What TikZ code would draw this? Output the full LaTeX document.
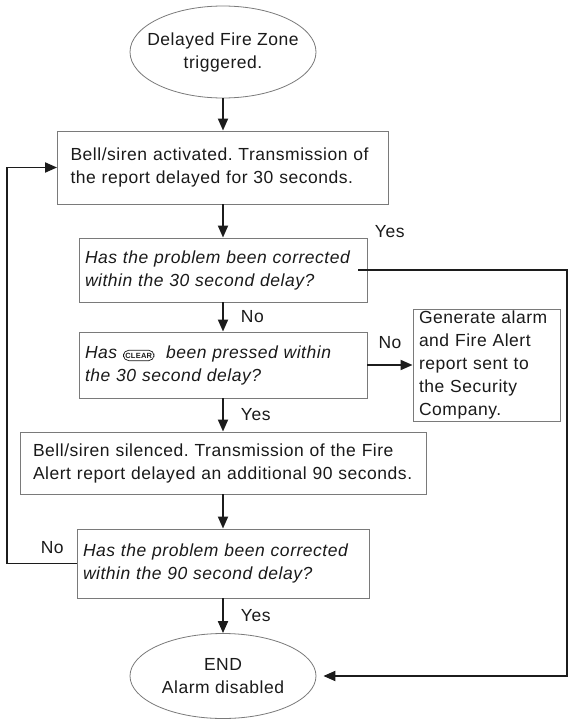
\documentclass[tikz,border=0pt]{standalone}
\usepackage{fontspec}
\setmainfont{Liberation Sans}[LetterSpace=3]
\usepackage{tikz}
\usetikzlibrary{arrows.meta,shapes.geometric}
\definecolor{boxgray}{HTML}{7A7A7A}
\definecolor{linedark}{HTML}{1C1C1C}
\definecolor{inkgray}{HTML}{1A1A1A}
\frenchspacing
\newcommand{\flowsize}{\fontsize{17.5}{23}\selectfont}
\newcommand{\clearkey}{\tikz[baseline=(ck.base)]\node[keycap] (ck) {CLEAR};}
\tikzset{
  >={Triangle[length=12pt,width=10pt]},
  % boxes
  stmt/.style={rectangle,draw=boxgray,line width=0.9pt,align=left,
               inner xsep=13pt,inner ysep=0pt,font=\flowsize,text=inkgray},
  ques/.style={stmt,inner xsep=6pt,font=\flowsize\itshape},
  term/.style={ellipse,draw=boxgray,line width=0.8pt,align=center,
               inner xsep=-12pt,inner ysep=0pt,font=\flowsize,text=inkgray},
  keycap/.style={rectangle,draw=inkgray,line width=0.7pt,rounded corners=5.5pt,
                 text width={},minimum width=0pt,minimum height=0pt,
                 inner xsep=2pt,inner ysep=2.6pt,
                 font=\fontsize{7.5}{8}\selectfont\bfseries\upshape},
  % connectors
  flow/.style={->,draw=linedark,line width=1.9pt},
  yn/.style={font=\flowsize,text=inkgray,inner sep=0pt},
}
\begin{document}
\begin{tikzpicture}[x=1pt,y=-1pt]
  \fill[white] (0,0) rectangle (570,720);
  \node[term,minimum width=186pt,minimum height=92pt] (zone) at (223,52) {Delayed Fire Zone\\triggered.};
  \node[stmt,text width=305pt,minimum height=73pt] (bell) at (223,167.5) {Bell/siren activated. Transmission of\\the report delayed for 30 seconds.};
  \node[ques,text width=276pt,minimum height=64pt] (fix30) at (223,270) {Has the problem been corrected\\within the 30 second delay?};
  \node[ques,text width=276pt,minimum height=66pt] (clr) at (223,365) {Has \clearkey\ \ been pressed within\\the 30 second delay?};
  \node[stmt,inner xsep=6pt,text width=135pt,minimum height=112pt] (alarm) at (486.5,365) {Generate alarm\\and Fire Alert\\report sent to\\the Security\\Company.};
  \node[stmt,text width=380pt,minimum height=62pt] (hush) at (223,463) {Bell/siren silenced. Transmission of the Fire\\Alert report delayed an additional 90 seconds.};
  \node[ques,text width=280pt,minimum height=69pt] (fix90) at (223,563.5) {Has the problem been corrected\\within the 90 second delay?};
  \node[term,minimum width=186pt,minimum height=85pt] (done) at (223,676) {END\\Alarm disabled};
  \coordinate (back) at (7,0);
  \coordinate (side) at (567,0);
  \draw[flow] (zone) -- (bell);
  \draw[flow] (bell) -- (fix30);
  \draw[flow] (fix30) -- node[yn,right=17pt] {No} (clr);
  \draw[flow] (clr) -- node[yn,above=15pt] {No} (alarm);
  \draw[flow] (clr) -- node[yn,right=17pt] {Yes} (hush);
  \draw[flow] (hush) -- (fix90);
  \draw[flow] (fix90) -- node[yn,right=17pt] {Yes} (done);
  \draw[flow] (fix90.west) -- node[yn,above=9pt,pos=0.35] {No} (fix90.west -| back) |- (bell.west);
  \draw[flow,shorten >=7pt] ([xshift=-9pt]fix30.east) -- node[yn,above=31pt,pos=0.15] {Yes} (fix30.east -| side) |- (done.east);
\end{tikzpicture}
\end{document}
